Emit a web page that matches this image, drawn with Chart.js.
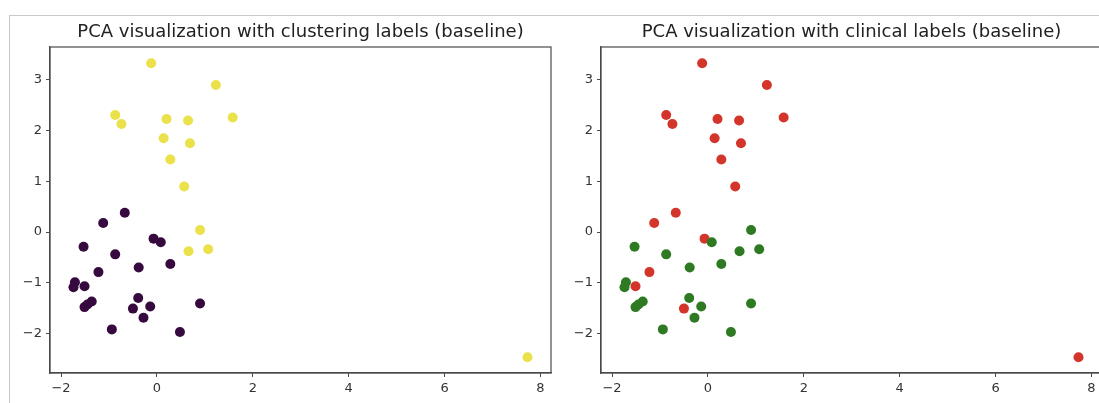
<!DOCTYPE html>
<html>
<head>
<meta charset="utf-8">
<script src="https://cdn.jsdelivr.net/npm/chart.js@4/dist/chart.umd.min.js"></script>
<style>
  html, body { margin: 0; padding: 0; background: #fff; overflow: hidden; }
  body { width: 1099px; height: 403px; position: relative; }
  #frame { position: absolute; left: 9px; top: 15px; width: 1200px; height: 400px;
           border-top: 1px solid #c9c9c9; border-left: 1px solid #c9c9c9; }
  .box { position: absolute; top: 16px; height: 387px; }
  #leftBox { left: 10px; width: 550px; }
  #rightBox { left: 560px; width: 560px; }
</style>
</head>
<body>
<div id="frame"></div>
<div class="box" id="leftBox"><canvas id="chartLeft"></canvas></div>
<div class="box" id="rightBox"><canvas id="chartRight"></canvas></div>
<script>
// PCA coordinates (PC1, PC2)
const pcX = [-0.12, 1.23, -0.87, -0.74, 0.20, 0.65, 1.58, 0.14, 0.69, 0.28, 0.57, 0.90, 0.66, 1.07, 7.73,
             -0.67, -1.12, -1.53, -0.87, -0.07, 0.08, -0.38, 0.28, -1.22, -1.71, -1.74, -1.51, -1.36, -1.51,
             -1.45, -0.39, -0.50, -0.14, -0.28, 0.90, -0.94, 0.48];
const pcY = [3.33, 2.90, 2.31, 2.13, 2.23, 2.20, 2.26, 1.85, 1.75, 1.43, 0.90, 0.04, -0.38, -0.34, -2.47,
             0.38, 0.18, -0.29, -0.44, -0.13, -0.20, -0.70, -0.63, -0.79, -0.99, -1.09, -1.07, -1.37, -1.48,
             -1.43, -1.30, -1.51, -1.47, -1.69, -1.41, -1.92, -1.97];
// cluster labels: 0 = purple, 1 = yellow
const clusterLabels = [1, 1, 1, 1, 1, 1, 1, 1, 1, 1, 1, 1, 1, 1, 1,
                       0, 0, 0, 0, 0, 0, 0, 0, 0, 0, 0, 0, 0, 0, 0, 0, 0, 0, 0, 0, 0, 0];
// clinical labels: 1 = red, 0 = green
const clinicalLabels = [1, 1, 1, 1, 1, 1, 1, 1, 1, 1, 1, 0, 0, 0, 1,
                        1, 1, 0, 0, 1, 0, 0, 0, 1, 0, 0, 1, 0, 0, 0, 0, 1, 0, 0, 0, 0, 0];
const xTicks = [-2, 0, 2, 4, 6, 8];
const yTicks = [-2, -1, 0, 1, 2, 3];

function pointsFor(labels, value) {
  const pts = [];
  labels.forEach((l, i) => {
    if (l === value) pts.push({ x: pcX[i], y: pcY[i] });
  });
  return pts;
}

// draws the four spines like matplotlib
const spines = {
  id: "spines",
  afterDraw(chart) {
    const a = chart.chartArea;
    const ctx = chart.ctx;
    ctx.save();
    ctx.strokeStyle = "#4a4a4a";
    ctx.lineWidth = 1.2;
    ctx.strokeRect(a.left, a.top, a.right - a.left, a.bottom - a.top);
    ctx.restore();
  }
};

const fmt = v => String(v).replace("-", "\u2212");

function makeChart(id, title, datasets, yAxisWidth, padRight) {
  const ctx = document.getElementById(id).getContext("2d");
  return new Chart(ctx, {
    type: "scatter",
    data: { datasets: datasets },
    options: {
      responsive: true,
      maintainAspectRatio: false,
      animation: false,
      layout: { padding: { left: 0, right: padRight, top: 0, bottom: 0 } },
      scales: {
        x: {
          type: "linear",
          min: -2.23,
          max: 8.22,
          afterBuildTicks: s => { s.ticks = xTicks.map(v => ({ value: v })); },
          afterFit: s => { s.height = 30; },
          grid: { drawOnChartArea: false, drawTicks: true, tickLength: 4, color: "#4a4a4a" },
          border: { display: true, color: "#4a4a4a", width: 1.2 },
          ticks: { color: "#333", padding: 4, font: { family: "DejaVu Sans", size: 13 }, callback: fmt, maxRotation: 0 }
        },
        y: {
          type: "linear",
          min: -2.78,
          max: 3.65,
          afterBuildTicks: s => { s.ticks = yTicks.map(v => ({ value: v })); },
          afterFit: s => { s.width = yAxisWidth; },
          grid: { drawOnChartArea: false, drawTicks: true, tickLength: 4, color: "#4a4a4a" },
          border: { display: true, color: "#4a4a4a", width: 1.2 },
          ticks: { color: "#333", padding: 4, font: { family: "DejaVu Sans", size: 13 }, callback: fmt }
        }
      },
      plugins: {
        legend: { display: false },
        tooltip: { enabled: false },
        title: {
          display: true,
          text: title,
          fullSize: false,
          color: "#222",
          font: { family: "DejaVu Sans", size: 18, weight: "normal" },
          padding: { top: 6, bottom: 3.4 }
        }
      }
    },
    plugins: [spines]
  });
}

const dot = color => ({
  pointRadius: 5,
  pointBackgroundColor: color,
  pointBorderColor: color,
  pointBorderWidth: 0
});

makeChart("chartLeft", "PCA visualization with clustering labels (baseline)", [
  Object.assign({ data: pointsFor(clusterLabels, 0) }, dot("#36093f")),
  Object.assign({ data: pointsFor(clusterLabels, 1) }, dot("#ebe14a"))
], 40, 9);

makeChart("chartRight", "PCA visualization with clinical labels (baseline)", [
  Object.assign({ data: pointsFor(clinicalLabels, 0) }, dot("#2e7a22")),
  Object.assign({ data: pointsFor(clinicalLabels, 1) }, dot("#d3352b"))
], 41, 18);
</script>
</body>
</html>
